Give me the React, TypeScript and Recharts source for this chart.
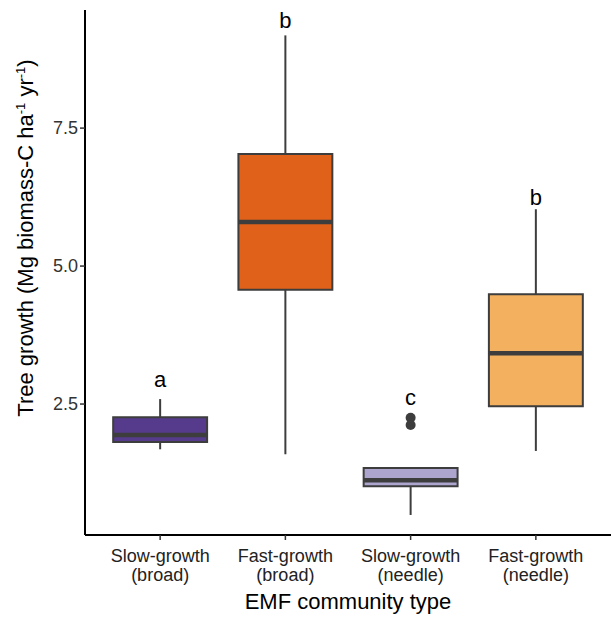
import {
  ComposedChart,
  Label,
  ReferenceArea,
  ReferenceLine,
  Scatter,
  XAxis,
  YAxis,
} from "recharts";

// groups along x (1..4)
const groups = [1, 2, 3, 4];
const categoryTop = ["Slow-growth", "Fast-growth", "Slow-growth", "Fast-growth"];
const categoryBottom = ["(broad)", "(broad)", "(needle)", "(needle)"];

// box statistics
const whiskerLow = [1.68, 1.59, 0.49, 1.65];
const q1 = [1.81, 4.57, 1.01, 2.46];
const median = [1.94, 5.8, 1.12, 3.42];
const q3 = [2.26, 7.03, 1.34, 4.49];
const whiskerHigh = [2.59, 9.18, 1.34, 6.03];

const outlierGroup = [3, 3];
const outlierValue = [2.25, 2.12];

const letters = ["a", "b", "c", "b"];
const letterValue = [2.81, 9.31, 2.48, 6.1];

const yTicks = [2.5, 5, 7.5];

const fills = ["#563B8C", "#E0611A", "#ADA5CE", "#F3B05F"];
const edge = "#3d3d3d";
const font = "'Liberation Sans', Arial, sans-serif";
const half = 0.375;

const outlierData = outlierGroup.map((g, i) => ({ x: g, y: outlierValue[i] }));
const letterData = groups.map((g, i) => ({ x: g, y: letterValue[i], text: letters[i] }));

function CategoryTick({ x, y, payload }: any) {
  const i = groups.indexOf(payload.value);
  return (
    <g transform={`translate(${x},${y})`}>
      <text textAnchor="middle" fill="#222" fontSize={18} fontFamily={font}>
        <tspan x={0} dy={20}>{categoryTop[i]}</tspan>
        <tspan x={0} dy={19}>{categoryBottom[i]}</tspan>
      </text>
    </g>
  );
}

function YTitle() {
  return (
    <text
      transform="rotate(-90)"
      x={-238}
      y={33}
      textAnchor="middle"
      fontSize={22}
      fontFamily={font}
      fill="#000"
    >
      Tree growth (Mg biomass-C ha
      <tspan dy={-8} fontSize={13}>-1</tspan>
      <tspan dy={8}> yr</tspan>
      <tspan dy={-8} fontSize={13}>-1</tspan>
      <tspan dy={8}>)</tspan>
    </text>
  );
}

function XTitle() {
  return (
    <text x={348} y={609} textAnchor="middle" fontSize={22} fontFamily={font} fill="#000">
      EMF community type
    </text>
  );
}

function LetterShape({ cx, cy, payload }: any) {
  return (
    <text x={cx} y={cy} textAnchor="middle" fontSize={22} fontFamily={font} fill="#000">
      {payload.text}
    </text>
  );
}

export default function App() {
  return (
    <div style={{ position: "absolute", left: 0, top: 0, background: "#fff" }}>
      <ComposedChart
        width={611}
        height={617}
        margin={{ top: 10, right: 0, bottom: 0, left: 0 }}
      >
        <XAxis
          type="number"
          dataKey="x"
          domain={[0.4, 4.6]}
          ticks={groups}
          height={82}
          tick={<CategoryTick />}
          tickSize={5}
          tickLine={{ stroke: "#333", strokeWidth: 1.5 }}
          axisLine={{ stroke: "#000", strokeWidth: 2 }}
          allowDataOverflow
        >
          <Label content={<XTitle />} />
        </XAxis>
        <YAxis
          type="number"
          dataKey="y"
          domain={[0.127, 9.64]}
          ticks={yTicks}
          width={85}
          tickFormatter={(v: number) => v.toFixed(1)}
          tick={{ fill: "#333", fontSize: 18, fontFamily: font }}
          tickSize={5}
          tickLine={{ stroke: "#333", strokeWidth: 1.5 }}
          axisLine={{ stroke: "#000", strokeWidth: 2 }}
          allowDataOverflow
        >
          <Label content={<YTitle />} />
        </YAxis>

        {groups.map((g, i) => (
          <ReferenceLine
            key={`wl${g}`}
            segment={[
              { x: g, y: whiskerLow[i] },
              { x: g, y: q1[i] },
            ]}
            stroke={edge}
            strokeWidth={2}
          />
        ))}
        {groups.map((g, i) => (
          <ReferenceLine
            key={`wh${g}`}
            segment={[
              { x: g, y: q3[i] },
              { x: g, y: whiskerHigh[i] },
            ]}
            stroke={edge}
            strokeWidth={2}
          />
        ))}
        {groups.map((g, i) => (
          <ReferenceArea
            key={`box${g}`}
            x1={g - half}
            x2={g + half}
            y1={q1[i]}
            y2={q3[i]}
            fill={fills[i]}
            fillOpacity={1}
            stroke={edge}
            strokeWidth={2}
          />
        ))}
        {groups.map((g, i) => (
          <ReferenceLine
            key={`med${g}`}
            segment={[
              { x: g - half, y: median[i] },
              { x: g + half, y: median[i] },
            ]}
            stroke={edge}
            strokeWidth={4.5}
          />
        ))}

        <Scatter
          data={outlierData}
          fill={edge}
          isAnimationActive={false}
          shape={(p: any) => <circle cx={p.cx} cy={p.cy} r={5} fill={edge} />}
        />
        <Scatter data={letterData} isAnimationActive={false} shape={<LetterShape />} />
      </ComposedChart>
    </div>
  );
}
